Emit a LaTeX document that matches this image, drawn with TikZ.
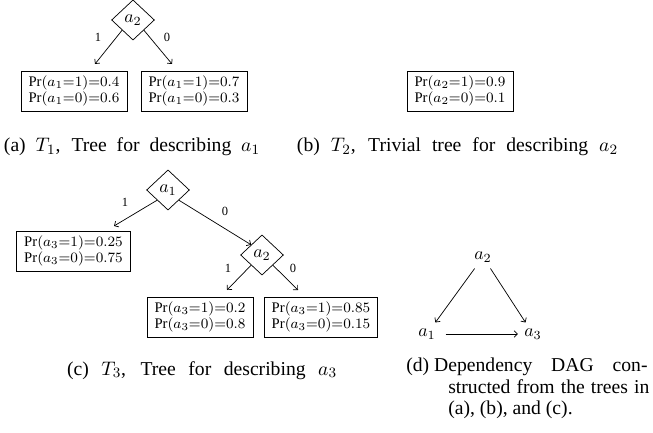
\documentclass[tikz,border=0pt]{standalone}
\usepackage{fontspec}
\setmainfont{Liberation Serif}
\usetikzlibrary{shapes.geometric,arrows.meta}
\tikzset{>={Straight Barb[scale=.8]}}
\tikzset{
  test/.style={diamond, draw, inner sep=0pt, minimum width=24pt, minimum height=22.5pt},
  leaf/.style={draw, align=center, inner xsep=4.2pt, inner ysep=0pt, minimum height=22.4pt,
    font=\fontsize{8.2}{7}\selectfont},
  branch/.style={font=\scriptsize, inner sep=0pt},
  subcap/.style={anchor=base, inner sep=0pt, font=\fontsize{11}{12}\selectfont}
}
\begin{document}
\begin{tikzpicture}[x=0.56pt, y=-0.56pt]
  \useasboundingbox (0,0) rectangle (653,433);
  % (a) tree for a1
  \node[test] (ta) at (133,20) {$a_2$};
  \coordinate (ea1) at (95,64);
  \coordinate (ea0) at (172,64);
  \draw[->] (ta.south west) -- (ea1);
  \draw[->] (ta.south east) -- (ea0);
  \node[branch] (ba1) at (98,37) {1};
  \node[branch] (ba0) at (167,37) {0};
  \node[leaf] (la1) at (74,91) {$\Pr(a_1{=}1){=}0.4$\\$\Pr(a_1{=}0){=}0.6$};
  \node[leaf] (la0) at (194,91) {$\Pr(a_1{=}1){=}0.7$\\$\Pr(a_1{=}0){=}0.3$};
  \node[subcap] (capa) at (132,152) {\makebox[143.4pt][s]{(a) $T_1$, Tree for describing $a_1$}};
  % (b) trivial tree for a2
  \node[leaf] (lb) at (460,91) {$\Pr(a_2{=}1){=}0.9$\\$\Pr(a_2{=}0){=}0.1$};
  \node[subcap] (capb) at (457.5,152) {\makebox[179.8pt][s]{(b) $T_2$, Trivial tree for describing $a_2$}};
  % (c) tree for a3
  \node[test] (tc1) at (168,190) {$a_1$};
  \node[test] (tc2) at (262,255) {$a_2$};
  \coordinate (ec1) at (114,226);
  \coordinate (ec21) at (227,290);
  \coordinate (ec20) at (298,290);
  \draw[->] (tc1.south west) -- (ec1);
  \draw[->] (tc1.south east) -- (tc2.north west);
  \draw[->] (tc2.south west) -- (ec21);
  \draw[->] (tc2.south east) -- (ec20);
  \node[branch] (bc1) at (125,202) {1};
  \node[branch] (bc0) at (225,211) {0};
  \node[branch] (bc21) at (228,268) {1};
  \node[branch] (bc20) at (293,268) {0};
  \node[leaf] (lc1) at (73.5,251) {$\Pr(a_3{=}1){=}0.25$\\$\Pr(a_3{=}0){=}0.75$};
  \node[leaf] (lc21) at (200,317) {$\Pr(a_3{=}1){=}0.2$\\$\Pr(a_3{=}0){=}0.8$};
  \node[leaf] (lc20) at (321,317) {$\Pr(a_3{=}1){=}0.85$\\$\Pr(a_3{=}0){=}0.15$};
  \node[subcap] (capc) at (202,375) {\makebox[151.2pt][s]{(c) $T_3$, Tree for describing $a_3$}};
  % (d) dependency DAG
  \node (va2) at (483,257) {$a_2$};
  \node (va1) at (427,334) {$a_1$};
  \node (va3) at (533,334) {$a_3$};
  \draw[->] (va2) -- (va1);
  \draw[->] (va2) -- (va3);
  \draw[->, shorten <=2pt] (va1) -- (va3);
  \node[anchor=north west, inner sep=0pt, align=left, font=\fontsize{11}{12}\selectfont] (capd) at (406,358)
    {(d) \makebox[119.5pt][s]{Dependency DAG con-}\\
     \hspace*{23.5pt}\makebox[112.6pt][s]{structed from the trees in}\\
     \hspace*{23.5pt}(a), (b), and (c).};
\end{tikzpicture}
\end{document}
